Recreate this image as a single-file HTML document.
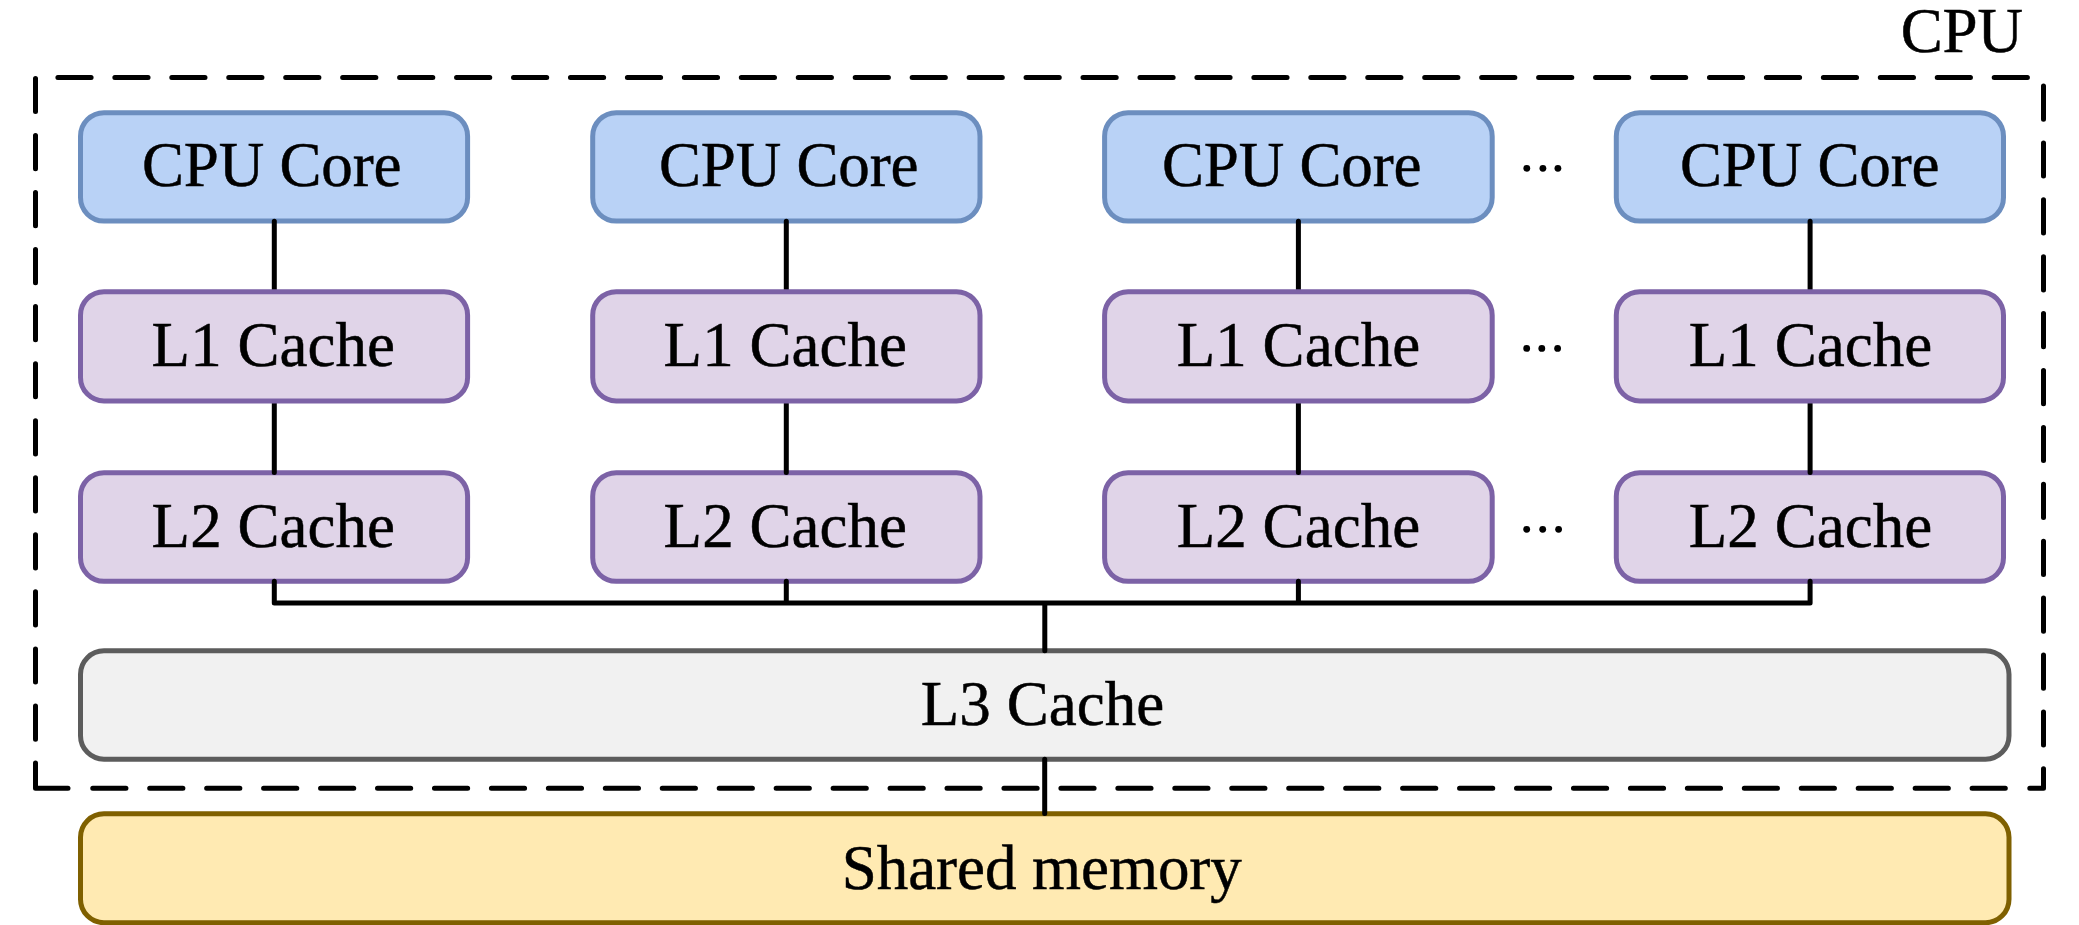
<!DOCTYPE html>
<html><head><meta charset="utf-8"><title>CPU cache hierarchy</title>
<style>
html,body{margin:0;padding:0;background:#fff;}
body{width:2079px;height:925px;overflow:hidden;}
svg{display:block;}
text{font-family:"Liberation Serif",serif;fill:#000;stroke:#000;stroke-width:0.5px;}
</style></head><body>
<svg width="2079" height="925" viewBox="0 0 2079 925">
<rect width="2079" height="925" fill="#fff"/>
<path d="M57.90 77.5h33.2 M114.85 77.5h33.2 M171.80 77.5h33.2 M228.75 77.5h33.2 M285.70 77.5h33.2 M342.65 77.5h33.2 M399.60 77.5h33.2 M456.55 77.5h33.2 M513.50 77.5h33.2 M570.45 77.5h33.2 M627.40 77.5h33.2 M684.35 77.5h33.2 M741.30 77.5h33.2 M798.25 77.5h33.2 M855.20 77.5h33.2 M912.15 77.5h33.2 M969.10 77.5h33.2 M1026.05 77.5h33.2 M1083.00 77.5h33.2 M1139.95 77.5h33.2 M1196.90 77.5h33.2 M1253.85 77.5h33.2 M1310.80 77.5h33.2 M1367.75 77.5h33.2 M1424.70 77.5h33.2 M1481.65 77.5h33.2 M1538.60 77.5h33.2 M1595.55 77.5h33.2 M1652.50 77.5h33.2 M1709.45 77.5h33.2 M1766.40 77.5h33.2 M1823.35 77.5h33.2 M1880.30 77.5h33.2 M1937.25 77.5h33.2 M1994.20 77.5h33.2 M2043.5 86.00v33.2 M2043.5 142.90v33.2 M2043.5 199.80v33.2 M2043.5 256.70v33.2 M2043.5 313.60v33.2 M2043.5 370.50v33.2 M2043.5 427.40v33.2 M2043.5 484.30v33.2 M2043.5 541.20v33.2 M2043.5 598.10v33.2 M2043.5 655.00v33.2 M2043.5 711.90v33.2 M2043.5 768.80V788.2H2029.8 M92.75 788.2h33.2 M149.70 788.2h33.2 M206.65 788.2h33.2 M263.60 788.2h33.2 M320.55 788.2h33.2 M377.50 788.2h33.2 M434.45 788.2h33.2 M491.40 788.2h33.2 M548.35 788.2h33.2 M605.30 788.2h33.2 M662.25 788.2h33.2 M719.20 788.2h33.2 M776.15 788.2h33.2 M833.10 788.2h33.2 M890.05 788.2h33.2 M947.00 788.2h33.2 M1003.95 788.2h33.2 M1060.90 788.2h33.2 M1117.85 788.2h33.2 M1174.80 788.2h33.2 M1231.75 788.2h33.2 M1288.70 788.2h33.2 M1345.65 788.2h33.2 M1402.60 788.2h33.2 M1459.55 788.2h33.2 M1516.50 788.2h33.2 M1573.45 788.2h33.2 M1630.40 788.2h33.2 M1687.35 788.2h33.2 M1744.30 788.2h33.2 M1801.25 788.2h33.2 M1858.20 788.2h33.2 M1915.15 788.2h33.2 M1972.10 788.2h33.2 M35.5 78.40v33.2 M35.5 135.45v33.2 M35.5 192.50v33.2 M35.5 249.55v33.2 M35.5 306.60v33.2 M35.5 363.65v33.2 M35.5 420.70v33.2 M35.5 477.75v33.2 M35.5 534.80v33.2 M35.5 591.85v33.2 M35.5 648.90v33.2 M35.5 705.95v33.2 M35.5 763.00V788.2H68.0" fill="none" stroke="#000" stroke-width="5.0" stroke-linecap="round" stroke-linejoin="round"/>
<text x="1900.65" y="51.95" font-size="63.0" textLength="122.41" lengthAdjust="spacing">CPU</text>
<rect x="80.50" y="112.70" width="387.10" height="108.40" rx="23.5" ry="23.5" fill="#b9d2f6" stroke="#6c8ebf" stroke-width="5.0"/><text x="141.95" y="185.75" font-size="63.0" textLength="259.48" lengthAdjust="spacing">CPU Core</text><rect x="592.70" y="112.70" width="387.30" height="108.40" rx="23.5" ry="23.5" fill="#b9d2f6" stroke="#6c8ebf" stroke-width="5.0"/><text x="658.95" y="185.75" font-size="63.0" textLength="259.48" lengthAdjust="spacing">CPU Core</text><rect x="1104.60" y="112.70" width="387.60" height="108.40" rx="23.5" ry="23.5" fill="#b9d2f6" stroke="#6c8ebf" stroke-width="5.0"/><text x="1161.95" y="185.75" font-size="63.0" textLength="259.48" lengthAdjust="spacing">CPU Core</text><rect x="1616.30" y="112.70" width="387.20" height="108.40" rx="23.5" ry="23.5" fill="#b9d2f6" stroke="#6c8ebf" stroke-width="5.0"/><text x="1679.95" y="185.75" font-size="63.0" textLength="259.48" lengthAdjust="spacing">CPU Core</text><rect x="80.50" y="472.70" width="387.10" height="108.60" rx="23.5" ry="23.5" fill="#e0d4e8" stroke="#7c62a6" stroke-width="5.0"/><text x="151.60" y="546.95" font-size="63.0" textLength="243.49" lengthAdjust="spacing">L2 Cache</text><rect x="592.70" y="472.70" width="387.30" height="108.60" rx="23.5" ry="23.5" fill="#e0d4e8" stroke="#7c62a6" stroke-width="5.0"/><text x="663.60" y="546.95" font-size="63.0" textLength="243.49" lengthAdjust="spacing">L2 Cache</text><rect x="1104.60" y="472.70" width="387.60" height="108.60" rx="23.5" ry="23.5" fill="#e0d4e8" stroke="#7c62a6" stroke-width="5.0"/><text x="1176.70" y="546.95" font-size="63.0" textLength="243.49" lengthAdjust="spacing">L2 Cache</text><rect x="1616.30" y="472.70" width="387.20" height="108.60" rx="23.5" ry="23.5" fill="#e0d4e8" stroke="#7c62a6" stroke-width="5.0"/><text x="1688.80" y="546.95" font-size="63.0" textLength="243.49" lengthAdjust="spacing">L2 Cache</text><rect x="80.50" y="650.80" width="1928.50" height="108.40" rx="23.5" ry="23.5" fill="#f1f1f1" stroke="#5c5c5c" stroke-width="5.0"/><text x="920.80" y="724.95" font-size="63.0" textLength="243.39" lengthAdjust="spacing">L3 Cache</text><rect x="80.50" y="813.80" width="1928.50" height="108.90" rx="23.5" ry="23.5" fill="#ffeab2" stroke="#7f6000" stroke-width="5.0"/><text x="841.70" y="888.65" font-size="63.0" textLength="400.09" lengthAdjust="spacing">Shared memory</text>
<path d="M274.30 221.2V291.7 M274.30 401.0V472.6 M786.30 221.2V291.7 M786.30 401.0V472.6 M1298.40 221.2V291.7 M1298.40 401.0V472.6 M1810.10 221.2V291.7 M1810.10 401.0V472.6 M274.30 581.2V603H1810.10V581.2 M786.30 581.2V603M1298.40 581.2V603 M1044.8 603V650.8 M1044.7 759.3V813.5" fill="none" stroke="#000" stroke-width="5.0" stroke-linecap="round" stroke-linejoin="round"/>
<rect x="80.50" y="291.70" width="387.10" height="109.20" rx="23.5" ry="23.5" fill="#e0d4e8" stroke="#7c62a6" stroke-width="5.0"/><text x="151.60" y="365.85" font-size="63.0" textLength="243.49" lengthAdjust="spacing">L1 Cache</text><rect x="592.70" y="291.70" width="387.30" height="109.20" rx="23.5" ry="23.5" fill="#e0d4e8" stroke="#7c62a6" stroke-width="5.0"/><text x="663.60" y="365.85" font-size="63.0" textLength="243.49" lengthAdjust="spacing">L1 Cache</text><rect x="1104.60" y="291.70" width="387.60" height="109.20" rx="23.5" ry="23.5" fill="#e0d4e8" stroke="#7c62a6" stroke-width="5.0"/><text x="1176.70" y="365.85" font-size="63.0" textLength="243.49" lengthAdjust="spacing">L1 Cache</text><rect x="1616.30" y="291.70" width="387.20" height="109.20" rx="23.5" ry="23.5" fill="#e0d4e8" stroke="#7c62a6" stroke-width="5.0"/><text x="1688.80" y="365.85" font-size="63.0" textLength="243.49" lengthAdjust="spacing">L1 Cache</text>
<g fill="#000"><circle cx="1526.8" cy="168.3" r="3.4"/><circle cx="1542.9" cy="168.3" r="3.4"/><circle cx="1557.9" cy="168.3" r="3.4"/><circle cx="1526.7" cy="348.4" r="3.4"/><circle cx="1541.8" cy="348.4" r="3.4"/><circle cx="1557.6" cy="348.4" r="3.4"/><circle cx="1526.7" cy="529.3" r="3.4"/><circle cx="1542.7" cy="529.3" r="3.4"/><circle cx="1558.6" cy="529.3" r="3.4"/></g>
</svg>
</body></html>
